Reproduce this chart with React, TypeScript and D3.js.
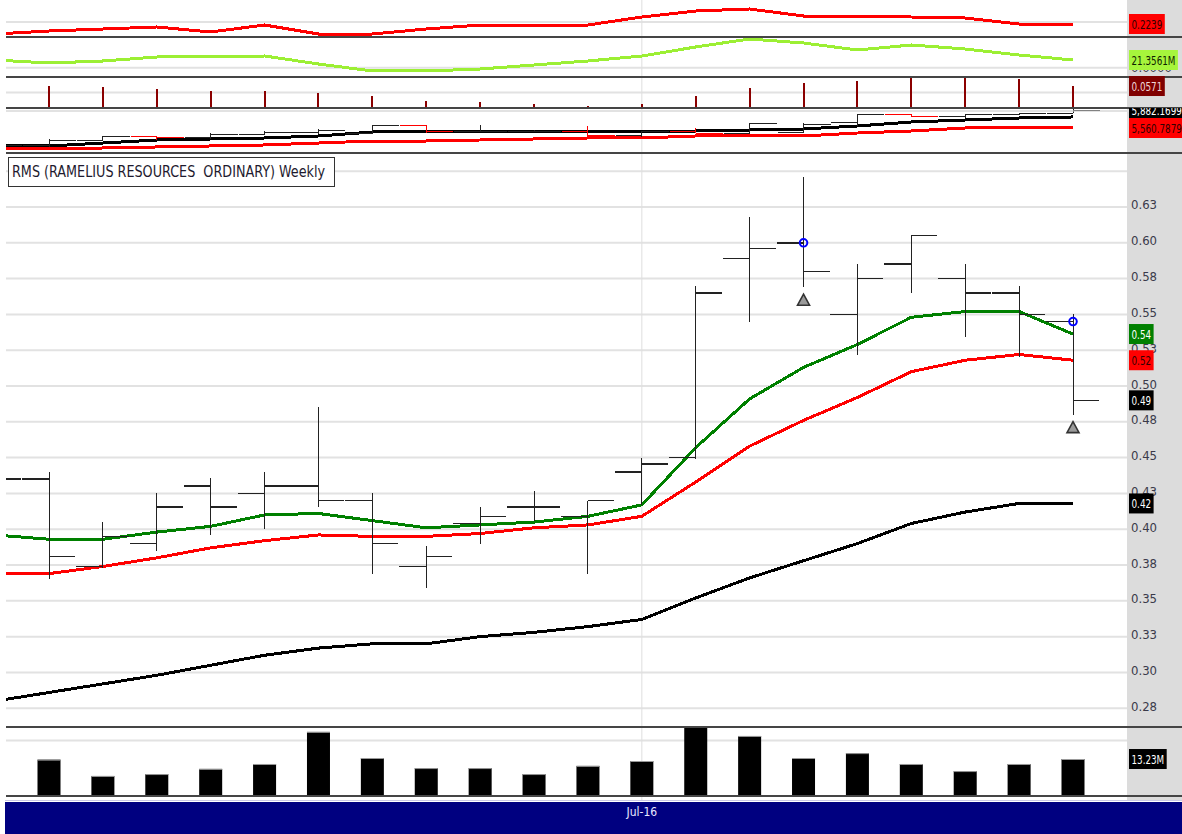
import React from "react";
import * as d3 from "d3";

// ---------- DATA (index 0 is the partially hidden week at the left edge) ----------
const weeks = [
  "2016-04-08", "2016-04-15", "2016-04-22", "2016-04-29", "2016-05-06", "2016-05-13", "2016-05-20",
  "2016-05-27", "2016-06-03", "2016-06-10", "2016-06-17", "2016-06-24", "2016-07-01", "2016-07-08",
  "2016-07-15", "2016-07-22", "2016-07-29", "2016-08-05", "2016-08-12", "2016-08-19", "2016-08-26",
];
const xLabels = [{ week: "2016-07-01", label: "Jul-16" }];

const priceOpen = [0.440, 0.435, 0.374, 0.390, 0.430, 0.425, 0.430, 0.420, 0.374, 0.404, 0.4155, 0.409, 0.440, 0.450, 0.589, 0.600, 0.550, 0.585, 0.575, 0.565, 0.545];
const priceHigh = [0.445, 0.440, 0.405, 0.425, 0.436, 0.440, 0.485, 0.425, 0.388, 0.4155, 0.427, 0.420, 0.450, 0.570, 0.618, 0.646, 0.585, 0.605, 0.585, 0.570, 0.550];
const priceLow = [0.430, 0.365, 0.373, 0.385, 0.396, 0.400, 0.4155, 0.369, 0.359, 0.390, 0.406, 0.369, 0.417, 0.449, 0.545, 0.569, 0.522, 0.565, 0.534, 0.520, 0.480];
const priceClose = [0.435, 0.381, 0.395, 0.4155, 0.4155, 0.430, 0.420, 0.390, 0.381, 0.409, 0.4155, 0.420, 0.4455, 0.565, 0.596, 0.580, 0.575, 0.605, 0.565, 0.550, 0.490];

const maGreen = [0.396, 0.393, 0.393, 0.398, 0.402, 0.410, 0.411, 0.406, 0.401, 0.403, 0.405, 0.409, 0.417, 0.457, 0.491, 0.513, 0.529, 0.548, 0.552, 0.552, 0.5363];
const maRed = [0.369, 0.369, 0.374, 0.380, 0.387, 0.392, 0.396, 0.395, 0.395, 0.397, 0.401, 0.403, 0.409, 0.433, 0.458, 0.476, 0.492, 0.510, 0.518, 0.522, 0.518];
const maBlack = [0.280, 0.286, 0.292, 0.298, 0.305, 0.312, 0.317, 0.320, 0.320, 0.325, 0.328, 0.332, 0.337, 0.352, 0.366, 0.378, 0.390, 0.404, 0.412, 0.418, 0.418];

const volumeM: (number | null)[] = [null, 13.0, 7.0, 7.7, 9.6, 11.4, 23.2, 13.6, 9.9, 9.9, 7.7, 10.7, 12.5, 25.4, 21.7, 13.6, 15.4, 11.4, 8.8, 11.4, 13.23];

// signals: blue circle at the open, grey triangle under the low
const signalWeeks = ["2016-07-22", "2016-08-26"];

// upper indicator panels
const ind1 = [0.2039, 0.2099, 0.2139, 0.2179, 0.2079, 0.2219, 0.2039, 0.2039, 0.2139, 0.2219, 0.2219, 0.2219, 0.2379, 0.2499, 0.2539, 0.2399, 0.2399, 0.2379, 0.2359, 0.2239, 0.2239];
const ind2 = [21.36, 19.86, 20.86, 22.86, 22.86, 23.36, 19.36, 15.86, 15.86, 16.86, 18.86, 20.86, 23.36, 27.86, 31.86, 29.86, 26.36, 28.86, 26.86, 23.86, 21.3561];
const ind3 = [0, 0.0571, 0.0545, 0.0493, 0.0441, 0.0441, 0.0389, 0.0311, 0.0182, 0.0156, 0.0104, 0.0052, 0.0104, 0.0311, 0.0519, 0.0649, 0.0701, 0.0805, 0.0805, 0.0753, 0.0571];

const idxOpen = [5202, 5221, 5334, 5391, 5372, 5447, 5485, 5466, 5599, 5504, 5504, 5504, 5428, 5504, 5466, 5485, 5674, 5825, 5769, 5825, 5844];
const idxHigh = [5240, 5353, 5410, 5410, 5466, 5504, 5542, 5618, 5618, 5618, 5523, 5599, 5504, 5561, 5655, 5655, 5825, 5825, 5825, 5844, 5939];
const idxLow = [5164, 5202, 5315, 5334, 5353, 5428, 5447, 5447, 5466, 5485, 5485, 5391, 5391, 5466, 5466, 5466, 5599, 5769, 5750, 5806, 5844];
const idxClose = [5221, 5334, 5391, 5372, 5447, 5485, 5523, 5599, 5504, 5504, 5504, 5428, 5504, 5466, 5655, 5636, 5825, 5769, 5825, 5844, 5882.1699];
const idxFast = [5221, 5221, 5277, 5334, 5353, 5372, 5410, 5485, 5504, 5504, 5504, 5504, 5504, 5504, 5523, 5542, 5599, 5674, 5712, 5750, 5769];
const idxSlow = [5164, 5164, 5183, 5202, 5221, 5240, 5277, 5315, 5315, 5334, 5353, 5372, 5372, 5410, 5410, 5410, 5466, 5504, 5561, 5561, 5560.7879];

const priceTicks = [0.275, 0.3, 0.325, 0.35, 0.375, 0.4, 0.425, 0.45, 0.475, 0.5, 0.525, 0.55, 0.575, 0.6, 0.625];
const priceTickLabels = ["0.28", "0.30", "0.33", "0.35", "0.38", "0.40", "0.43", "0.45", "0.48", "0.50", "0.53", "0.55", "0.58", "0.60", "0.63"];
const priceGridExtra = [0.65];
const ind1Grid = [0.2279];
const ind2Grid = [17.5];
const ind2GridLabels = ["0.0000"];
const ind3Grid = [0.04];
const idxGrid = [5880];
const volGrid = [20];

const title = "RMS (RAMELIUS RESOURCES  ORDINARY) Weekly";

// ---------- LAYOUT / STYLE ----------
const W = 1182;
const H = 834;
const PL = 6;
const PR = 1127;
const AXF = "'Liberation Sans Narrow', 'DejaVu Sans Condensed', 'Liberation Sans', sans-serif";
const GRID = "#e2e2e2";
const BORDER = "#454545";

function textW(s: string) {
  let w = 0;
  for (const c of s) {
    if (c === "." || c === ",") w += 2.8;
    else if (c === "M") w += 7.5;
    else w += 5.6;
  }
  return w;
}

function ValueBox({ cy, text, fill, color }: { cy: number; text: string; fill: string; color: string }) {
  const tw = textW(text);
  return (
    <g>
      <rect x={1129} y={cy - 10} width={tw + 5} height={20} fill={fill} />
      <text
        x={1131.5}
        y={cy + 4.5}
        fontFamily={AXF}
        fontSize={13}
        fill={color}
        textLength={tw}
        lengthAdjust="spacingAndGlyphs"
      >
        {text}
      </text>
    </g>
  );
}

export default function App() {
  const x = d3.scaleLinear().domain([1, 20]).range([49, 1073]);
  const wx = (w: string) => x(weeks.indexOf(w));

  const y1 = d3.scaleLinear().domain([0.1979, 0.2719]).range([37, 0]);
  const y2 = d3.scaleLinear().domain([12.8561, 32.8561]).range([77, 37]);
  const y3 = d3.scaleLinear().domain([0, 0.0805]).range([108, 77]);
  const y4 = d3.scaleLinear().domain([5088.3, 5938.8]).range([153, 108]);
  const yM = d3.scaleLinear().domain([0.2619, 0.6627]).range([727, 153]);
  const yV = d3.scaleLinear().domain([0, 25]).range([795, 727]);

  const mk = (vals: number[], sc: d3.ScaleLinear<number, number>) =>
    d3.line<number>().x((_, i) => x(i)).y((d) => sc(d))(vals) || "";

  const last = weeks.length - 1;
  const f2 = d3.format(".2f");
  const f4 = d3.format(".4f");
  const fc4 = d3.format(",.4f");

  const gridLine = (y: number, k: string) => (
    <line key={k} x1={PL} x2={PR} y1={y} y2={y} stroke={GRID} strokeWidth={2} />
  );

  return (
    <svg width={W} height={H} style={{ position: "absolute", left: 0, top: 0, background: "#fff" }}>
      <defs>
        <clipPath id="plotClip">
          <rect x={PL} y={0} width={PR - PL} height={800} />
        </clipPath>
        <clipPath id="p4Clip">
          <rect x={0} y={108} width={W} height={45} />
        </clipPath>
        <clipPath id="volClip">
          <rect x={PL} y={727} width={PR - PL} height={68} />
        </clipPath>
      </defs>
      <rect x={0} y={0} width={W} height={H} fill="#fff" />
      {/* axis background */}
      <rect x={PR} y={0} width={W - PR} height={800} fill="#dcdcdc" />

      {/* gridlines */}
      {ind1Grid.map((v, i) => gridLine(y1(v), "g1" + i))}
      {ind2Grid.map((v, i) => gridLine(y2(v), "g2" + i))}
      {ind3Grid.map((v, i) => gridLine(y3(v), "g3" + i))}
      {idxGrid.map((v, i) => gridLine(y4(v), "g4" + i))}
      {[...priceTicks, ...priceGridExtra].map((v, i) => gridLine(yM(v), "gm" + i))}
      {volGrid.map((v, i) => gridLine(yV(v), "gv" + i))}

      {/* date gridline */}
      {xLabels.map((d) => (
        <line key={d.label} x1={wx(d.week)} x2={wx(d.week)} y1={0} y2={800} stroke="#dedede" strokeWidth={1} />
      ))}

      <g clipPath="url(#plotClip)">
        {/* panel 1 */}
        <path d={mk(ind1, y1)} fill="none" stroke="#ff0000" strokeWidth={3} shapeRendering="crispEdges" />
        {/* panel 2 */}
        <path d={mk(ind2, y2)} fill="none" stroke="#9cef34" strokeWidth={3} shapeRendering="crispEdges" />
        {/* panel 3 spikes */}
        {ind3.map((v, i) =>
          v > 0 ? (
            <line key={"s" + i} x1={x(i)} x2={x(i)} y1={y3(0)} y2={y3(v)} stroke="#8b0000" strokeWidth={2} shapeRendering="crispEdges" />
          ) : null
        )}
        {/* panel 4 */}
        <g clipPath="url(#p4Clip)">
          <path d={mk(idxSlow, y4)} fill="none" stroke="#ff0000" strokeWidth={3} shapeRendering="crispEdges" />
          <path d={mk(idxFast, y4)} fill="none" stroke="#000" strokeWidth={3} shapeRendering="crispEdges" />
          {idxClose.map((c, i) => {
            const col = c < idxOpen[i] ? "#ff0000" : "#222";
            const cx = x(i);
            return (
              <g key={"ib" + i} stroke={col} strokeWidth={1} shapeRendering="crispEdges">
                <line x1={cx} x2={cx} y1={y4(idxHigh[i])} y2={y4(idxLow[i])} />
                <line x1={cx - 26} x2={cx} y1={y4(idxOpen[i])} y2={y4(idxOpen[i])} />
                <line x1={cx} x2={cx + 27} y1={y4(c)} y2={y4(c)} />
              </g>
            );
          })}
        </g>

        {/* main moving averages */}
        <path d={mk(maBlack, yM)} fill="none" stroke="#000" strokeWidth={3} shapeRendering="crispEdges" />
        <path d={mk(maRed, yM)} fill="none" stroke="#ff0000" strokeWidth={3} shapeRendering="crispEdges" />
        <path d={mk(maGreen, yM)} fill="none" stroke="#008000" strokeWidth={3} shapeRendering="crispEdges" />

        {/* OHLC bars */}
        {priceClose.map((c, i) => {
          const cx = x(i);
          return (
            <g key={"b" + i} stroke="#222" shapeRendering="crispEdges">
              <line x1={cx} x2={cx} y1={yM(priceHigh[i])} y2={yM(priceLow[i])} strokeWidth={1} />
              <line x1={cx - 27} x2={cx} y1={yM(priceOpen[i])} y2={yM(priceOpen[i])} strokeWidth={1.6} />
              <line x1={cx} x2={cx + 26} y1={yM(c)} y2={yM(c)} strokeWidth={1.6} />
            </g>
          );
        })}

        {/* signals */}
        {signalWeeks.map((w) => {
          const i = weeks.indexOf(w);
          const cx = x(i);
          const ly = yM(priceLow[i]) + 7;
          return (
            <g key={"sig" + w}>
              <circle cx={cx} cy={yM(priceOpen[i])} r={3.8} fill="none" stroke="#0000ff" strokeWidth={2} />
              <path d={`M${cx},${ly} L${cx + 6},${ly + 11} L${cx - 6},${ly + 11} Z`} fill="#9a9a9a" stroke="#333" strokeWidth={1.6} />
            </g>
          );
        })}

        {/* volume */}
        <g clipPath="url(#volClip)">
          {volumeM.map((v, i) =>
            v == null ? null : (
              <g key={"v" + i}>
                <rect x={x(i) - 11.5} y={yV(v)} width={23} height={yV(0) - yV(v)} fill="#000" />
                <line x1={x(i) - 11.5} x2={x(i) + 11.5} y1={yV(v) + 0.5} y2={yV(v) + 0.5} stroke="#999" strokeWidth={1} />
              </g>
            )
          )}
        </g>
      </g>

      {/* panel borders */}
      {[37, 77, 108, 153, 727, 796].map((y) => (
        <line key={"bd" + y} x1={PL} x2={W} y1={y} y2={y} stroke={BORDER} strokeWidth={2} />
      ))}
      <line x1={PL} x2={W} y1={111} y2={111} stroke={GRID} strokeWidth={1} />

      {/* price axis labels */}
      {priceTicks.map((v, i) => (
        <text key={"pl" + i} x={1131} y={yM(v) + 2.5} fontFamily={AXF} fontSize={13} fill="#3a3a4a">
          {priceTickLabels[i]}
        </text>
      ))}
      {ind2Grid.map((v, i) => (
        <text key={"i2l" + i} x={1131} y={y2(v) + 4} fontFamily={AXF} fontSize={13} fill="#3a3a4a">
          {ind2GridLabels[i]}
        </text>
      ))}

      {/* last value boxes */}
      <ValueBox cy={y1(ind1[last])} text={f4(ind1[last])} fill="#ff0000" color="#300000" />
      <ValueBox cy={y2(ind2[last])} text={f4(ind2[last]) + "M"} fill="#a6f53c" color="#102000" />
      <ValueBox cy={y3(ind3[last])} text={f4(ind3[last])} fill="#800000" color="#f0d8d8" />
      <g clipPath="url(#p4Clip)">
        <ValueBox cy={y4(idxClose[last])} text={fc4(idxClose[last])} fill="#000" color="#fff" />
        <ValueBox cy={y4(idxSlow[last])} text={fc4(idxSlow[last])} fill="#ff0000" color="#300000" />
      </g>
      <ValueBox cy={yM(maGreen[last])} text={f2(maGreen[last])} fill="#008000" color="#fff" />
      <ValueBox cy={yM(maRed[last])} text={f2(maRed[last])} fill="#ff0000" color="#300000" />
      <ValueBox cy={yM(priceClose[last])} text={f2(priceClose[last])} fill="#000" color="#fff" />
      <ValueBox cy={yM(maBlack[last])} text={f2(maBlack[last])} fill="#000" color="#fff" />
      <ValueBox cy={yV(volumeM[last] as number)} text={f2(volumeM[last] as number) + "M"} fill="#000" color="#fff" />

      {/* title */}
      <rect x={8.5} y={157.5} width={326} height={29} fill="#fff" stroke="#333" strokeWidth={1} />
      <text
        x={12}
        y={177}
        fontFamily={AXF}
        fontSize={16}
        fill="#1e1a2e"
        textLength={313}
        lengthAdjust="spacingAndGlyphs"
        style={{ whiteSpace: "pre" }}
      >
        {title}
      </text>

      {/* date bar */}
      <line x1={5} x2={W} y1={800.5} y2={800.5} stroke="#c8c8e4" strokeWidth={1} />
      <rect x={5} y={802} width={W - 5} height={32} fill="#000080" />
      {xLabels.map((d) => (
        <text key={"xl" + d.label} x={wx(d.week)} y={816} textAnchor="middle" fontFamily={AXF} fontSize={12} fill="#e8e8ff">
          {d.label}
        </text>
      ))}
    </svg>
  );
}
